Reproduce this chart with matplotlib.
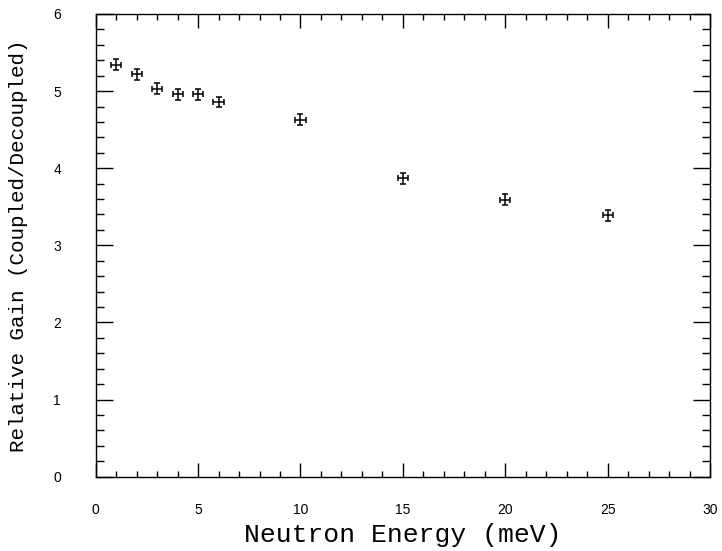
import matplotlib
matplotlib.use("Agg")
import matplotlib.pyplot as plt
import numpy as np
from matplotlib.ticker import MultipleLocator

# neutron energy (meV) and relative gain
energy = [1, 2, 3, 4, 5, 6, 10, 15, 20, 25]
gain = [5.34, 5.22, 5.03, 4.96, 4.96, 4.86, 4.63, 3.87, 3.59, 3.39]
energy_err = [0.25] * 10
gain_err = [0.07] * 10

fig = plt.figure(figsize=(7.22, 5.51), dpi=100)
ax = fig.add_axes([0.1326, 0.1349, 0.8508, 0.8397])

ax.errorbar(energy, gain, xerr=energy_err, yerr=gain_err, fmt='none',
            ecolor='black', elinewidth=1.1, capsize=2, capthick=1.1)

ax.set_xlim(0, 30)
ax.set_ylim(0, 6)
ax.xaxis.set_major_locator(MultipleLocator(5))
ax.xaxis.set_minor_locator(MultipleLocator(1))
ax.yaxis.set_major_locator(MultipleLocator(1))
ax.yaxis.set_minor_locator(MultipleLocator(0.2))

ax.tick_params(which='both', direction='in', top=True, right=True, width=1.0)
ax.tick_params(axis='x', which='major', length=10, pad=19)
ax.tick_params(axis='x', which='minor', length=4.5)
ax.tick_params(axis='y', which='major', length=12, pad=25)
ax.tick_params(axis='y', which='minor', length=6)
for lab in ax.get_xticklabels() + ax.get_yticklabels():
    lab.set_fontfamily('Liberation Sans')
    lab.set_fontsize(10)
for s in ax.spines.values():
    s.set_linewidth(1.0)

ax.set_xlabel("Neutron Energy (meV)", fontfamily='Liberation Mono', fontsize=19, labelpad=4)
ax.set_ylabel("Relative Gain (Coupled/Decoupled)", fontfamily='Liberation Mono', fontsize=15, labelpad=18)

fig.savefig("out.png", dpi=100)
